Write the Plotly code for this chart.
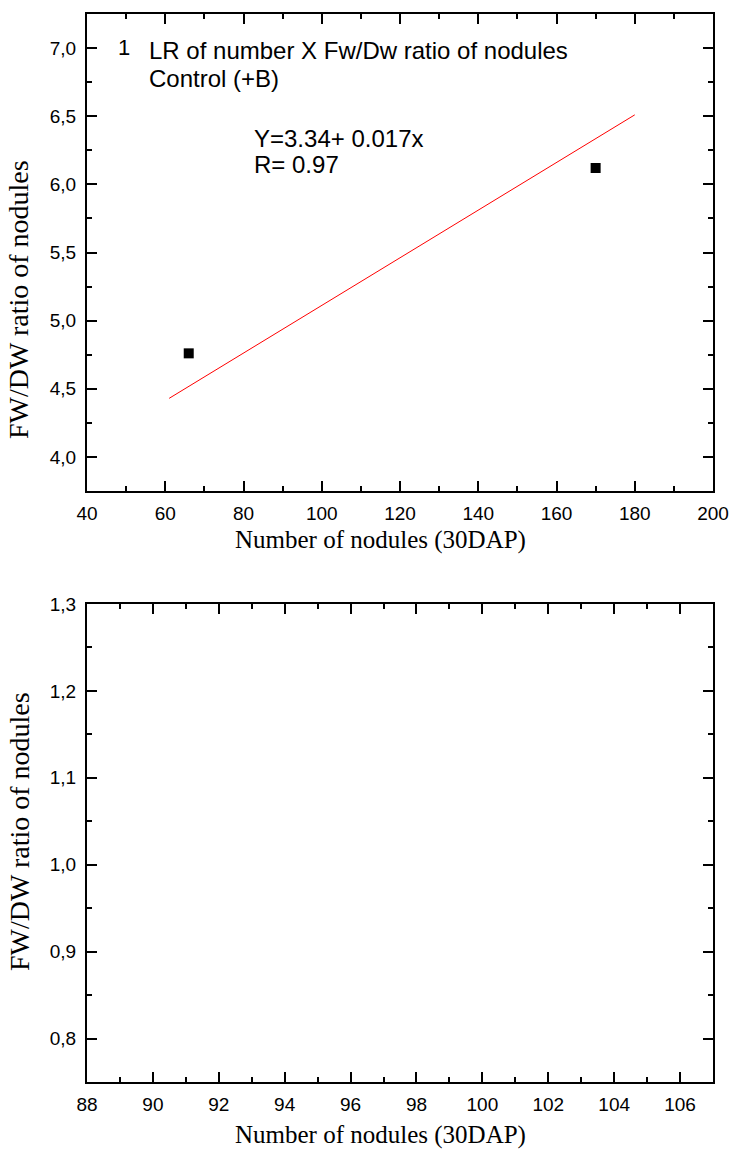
import plotly.graph_objects as go

W, H = 730, 1149

# ---- data ----
nodules = [66, 170]
fw_dw_ratio = [4.76, 6.12]
fit_x = [61, 180]
fit_y = [4.43, 6.51]

top_x_ticks = [40, 60, 80, 100, 120, 140, 160, 180, 200]
top_x_labels = ["40", "60", "80", "100", "120", "140", "160", "180", "200"]
top_y_ticks = [4.0, 4.5, 5.0, 5.5, 6.0, 6.5, 7.0]
top_y_labels = ["4,0", "4,5", "5,0", "5,5", "6,0", "6,5", "7,0"]

bot_x_ticks = [88, 90, 92, 94, 96, 98, 100, 102, 104, 106]
bot_x_labels = ["88", "90", "92", "94", "96", "98", "100", "102", "104", "106"]
bot_y_ticks = [0.8, 0.9, 1.0, 1.1, 1.2, 1.3]
bot_y_labels = ["0,8", "0,9", "1,0", "1,1", "1,2", "1,3"]

x_title = "Number of nodules (30DAP)"
y_title = "FW/DW ratio of nodules"

# ---- layout helpers ----
def px(x):
    return x / W

def py(y):
    return 1 - y / H

sans = "Liberation Sans, Arial, sans-serif"
serif = "Liberation Serif, Times New Roman, serif"

fig = go.Figure()

fig.add_trace(go.Scatter(x=fit_x, y=fit_y, mode="lines",
                         line=dict(color="#ff0000", width=1),
                         xaxis="x", yaxis="y", showlegend=False))
fig.add_trace(go.Scatter(x=nodules, y=fw_dw_ratio, mode="markers",
                         marker=dict(symbol="square", size=10, color="black"),
                         xaxis="x", yaxis="y", showlegend=False))
# empty second panel (axes only)
fig.add_trace(go.Scatter(x=[], y=[], xaxis="x2", yaxis="y2", showlegend=False))

def axis_common(tickvals, ticktext, minor_dtick, minor_tick0, rng, domain, anchor, standoff):
    return dict(
        range=rng, domain=domain, anchor=anchor, automargin=False,
        tickmode="array", tickvals=tickvals, ticktext=ticktext,
        ticks="inside", ticklen=10, tickwidth=2, tickcolor="black",
        showline=True, linewidth=2, linecolor="black", mirror="ticks",
        showgrid=False, zeroline=False, ticklabelstandoff=standoff,
        tickfont=dict(family=sans, size=19, color="black"),
        minor=dict(tickmode="linear", tick0=minor_tick0, dtick=minor_dtick,
                   ticks="inside", ticklen=5, tickwidth=2, tickcolor="black",
                   showgrid=False),
    )

xdom = [px(87), px(713)]
top_dom = [py(491), py(14)]
bot_dom = [py(1082), py(604)]

fig.update_layout(
    template="none",
    width=W, height=H,
    margin=dict(l=0, r=0, t=0, b=0, autoexpand=False),
    paper_bgcolor="white", plot_bgcolor="white",
    xaxis=axis_common(top_x_ticks, top_x_labels, 10, 40, [40, 200], xdom, "y", 4),
    yaxis=axis_common(top_y_ticks, top_y_labels, 0.25, 3.75, [3.75, 7.25], top_dom, "x", 5),
    xaxis2=axis_common(bot_x_ticks, bot_x_labels, 1, 88, [88, 107], xdom, "y2", 4),
    yaxis2=axis_common(bot_y_ticks, bot_y_labels, 0.05, 0.75, [0.75, 1.3], bot_dom, "x2", 5),
)

ann = []
def text(s, x, y, size, family=sans, xanchor="left", angle=0):
    ann.append(dict(text=s, x=px(x), y=py(y), xref="paper", yref="paper",
                    xanchor=xanchor, yanchor="middle", showarrow=False,
                    textangle=angle, font=dict(family=family, size=size, color="black")))

text("1", 116, 47, 22)
text("LR of number X Fw/Dw ratio of nodules", 147, 50, 24)
text("Control (+B)", 147, 78, 24)
text("Y=3.34+ 0.017x", 252, 138, 24)
text("R= 0.97", 252, 165, 24)

text(x_title, 380, 540, 25, family=serif, xanchor="center")
text(x_title, 380, 1135, 25, family=serif, xanchor="center")
text(y_title, 19, 300, 28, family=serif, xanchor="center", angle=-90)
text(y_title, 19, 832, 28, family=serif, xanchor="center", angle=-90)

fig.update_layout(annotations=ann)

fig.write_html("out.html")
